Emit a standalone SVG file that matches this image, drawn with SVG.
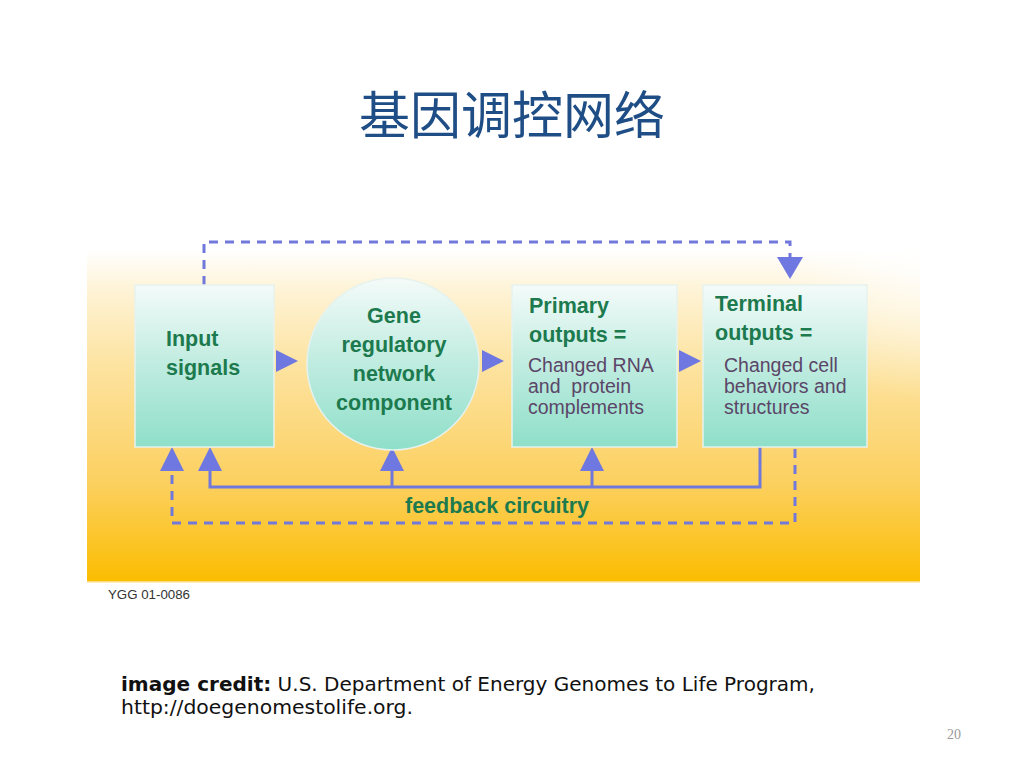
<svg xmlns="http://www.w3.org/2000/svg" width="1024" height="768" viewBox="0 0 1024 768">
<defs>
<linearGradient id="bg" x1="0" y1="0" x2="0" y2="1">
<stop offset="0" stop-color="#ffffff"/>
<stop offset="0.12" stop-color="#fef3d6"/>
<stop offset="0.35" stop-color="#fde3a0"/>
<stop offset="0.7" stop-color="#fcd060"/>
<stop offset="1" stop-color="#fbbd00"/>
</linearGradient>
<radialGradient id="rightfade" cx="920" cy="250" r="150" gradientUnits="userSpaceOnUse">
<stop offset="0" stop-color="#ffffff" stop-opacity="0.85"/>
<stop offset="1" stop-color="#ffffff" stop-opacity="0"/>
</radialGradient>
<linearGradient id="box" x1="0" y1="0" x2="0" y2="1">
<stop offset="0" stop-color="#f4fbf9"/>
<stop offset="0.45" stop-color="#c4ede2"/>
<stop offset="1" stop-color="#8edfc9"/>
</linearGradient>
<style>
.box{fill:url(#box);stroke:#e6f2ee;stroke-width:1.5}
.head{font-family:"Liberation Sans",Arial,sans-serif;font-weight:bold;fill:#1c7a4e;font-size:21.5px}
.body{font-family:"Liberation Sans",Arial,sans-serif;fill:#5b4668;font-size:19.5px;white-space:pre}
.tri{fill:#6f78e0}
.solid{fill:none;stroke:#7078dc;stroke-width:3}
.dash{fill:none;stroke:#7078dc;stroke-width:3;stroke-dasharray:9 7}
.credit{font-family:"DejaVu Sans",sans-serif;font-size:20px;fill:#111111}
</style>
</defs>
<rect width="1024" height="768" fill="#ffffff"/>
<text x="512" y="134" text-anchor="middle" font-family="Noto Sans CJK SC, sans-serif" font-size="51" fill="#1f4e86">基因调控网络</text>

<g id="background">
<rect x="87" y="250" width="833" height="332" fill="url(#bg)"/>
<rect x="770" y="250" width="150" height="150" fill="url(#rightfade)"/>
<line x1="87" y1="582" x2="920" y2="582" stroke="#fde9a6" stroke-width="1.5"/>
</g>

<g id="connectors">
<polyline class="dash" points="204,285 204,242 790,242 790,258"/>
<polygon class="tri" points="777,257 803,257 790,279"/>
<polygon class="tri" points="276,350 298,361 276,372"/>
<polygon class="tri" points="482,350 504,361 482,372"/>
<polygon class="tri" points="679,350 701,361 679,372"/>
<polyline class="solid" points="760,447 760,487 210,487 210,468"/>
<line class="solid" x1="392" y1="487" x2="392" y2="468"/>
<line class="solid" x1="592" y1="487" x2="592" y2="468"/>
<polyline class="dash" points="795,449 795,523 172,523 172,470"/>
<polygon class="tri" points="172,447 184,471 160,471"/>
<polygon class="tri" points="210,447 222,471 198,471"/>
<polygon class="tri" points="392,447 404,471 380,471"/>
<polygon class="tri" points="592,447 604,471 580,471"/>
<text x="497" y="513" text-anchor="middle" class="head" font-size="21">feedback circuitry</text>
</g>

<g id="input">
<rect class="box" x="135" y="285" width="139" height="162"/>
<text class="head" x="166" y="346">Input</text>
<text class="head" x="166" y="375">signals</text>
</g>

<g id="gene">
<circle cx="393" cy="364" r="86" fill="url(#box)" stroke="#e6f2ee" stroke-width="1.5"/>
<text class="head" text-anchor="middle" x="394" y="323">Gene</text>
<text class="head" text-anchor="middle" x="394" y="352">regulatory</text>
<text class="head" text-anchor="middle" x="394" y="381">network</text>
<text class="head" text-anchor="middle" x="394" y="410">component</text>
</g>

<g id="primary">
<rect class="box" x="512" y="285" width="165" height="162"/>
<text class="head" x="529" y="313">Primary</text>
<text class="head" x="529" y="342">outputs =</text>
<text class="body" x="528" y="372">Changed RNA</text>
<text class="body" x="528" y="393" xml:space="preserve">and  protein</text>
<text class="body" x="528" y="414">complements</text>
</g>

<g id="terminal">
<rect class="box" x="703" y="285" width="164" height="162"/>
<text class="head" x="715" y="311">Terminal</text>
<text class="head" x="715" y="340">outputs =</text>
<text class="body" x="724" y="372">Changed cell</text>
<text class="body" x="724" y="393">behaviors and</text>
<text class="body" x="724" y="414">structures</text>
</g>

<text x="108" y="599" font-family="Liberation Sans, Arial, sans-serif" font-size="12.5" fill="#333333" textLength="82" lengthAdjust="spacingAndGlyphs">YGG 01-0086</text>

<text class="credit" x="121" y="691" textLength="694" lengthAdjust="spacingAndGlyphs"><tspan font-weight="bold">image credit:</tspan> U.S. Department of Energy Genomes to Life Program,</text>
<text class="credit" x="121" y="714" textLength="292" lengthAdjust="spacingAndGlyphs">http://doegenomestolife.org.</text>
<text x="947" y="739" font-family="Liberation Serif, serif" font-size="14" fill="#9a9a9a">20</text>
</svg>
